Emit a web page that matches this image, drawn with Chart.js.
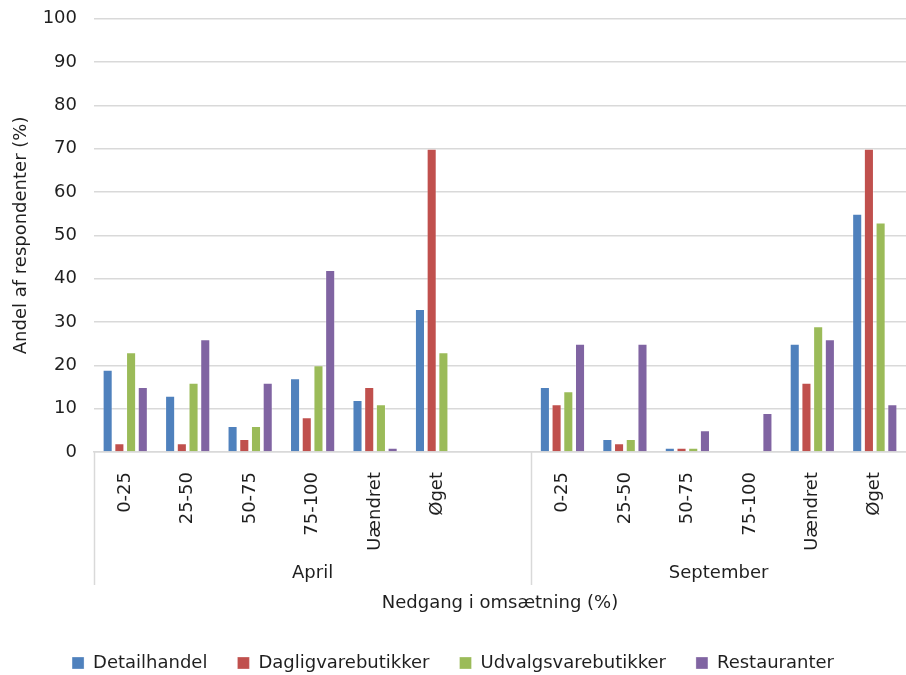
<!DOCTYPE html>
<html lang="da">
<head>
<meta charset="utf-8">
<title>Nedgang i omsætning</title>
<script src="https://cdn.jsdelivr.net/npm/chart.js@4.4.1/dist/chart.umd.min.js"></script>
<style>
  html, body { margin: 0; padding: 0; background: #ffffff; }
  #wrap { width: 906px; height: 675px; }
</style>
</head>
<body>
<div id="wrap"><canvas id="chart" width="906" height="675"></canvas></div>
<script>
// Categories: April group, an empty spacer slot, then September group
const aprilCategories = ['0-25', '25-50', '50-75', '75-100', 'Uændret', 'Øget'];
const septemberCategories = ['0-25', '25-50', '50-75', '75-100', 'Uændret', 'Øget'];
const groupLabels = ['April', 'September'];
const seriesNames = ['Detailhandel', 'Dagligvarebutikker', 'Udvalgsvarebutikker', 'Restauranter'];

// Share of respondents (%) per series
const detailhandelApril = [19, 13, 6, 17, 12, 33];
const detailhandelSeptember = [15, 3, 1, 0, 25, 55];
const dagligvareApril = [2, 2, 3, 8, 15, 70];
const dagligvareSeptember = [11, 2, 1, 0, 16, 70];
const udvalgsvareApril = [23, 16, 6, 20, 11, 23];
const udvalgsvareSeptember = [14, 3, 1, 0, 29, 53];
const restauranterApril = [15, 26, 16, 42, 1, 0];
const restauranterSeptember = [25, 25, 5, 9, 26, 11];

const yTicks = [0, 10, 20, 30, 40, 50, 60, 70, 80, 90, 100];

const labels = [...aprilCategories, '', ...septemberCategories];
const joinGroups = (a, s) => [...a, null, ...s];

const colors = ['#4F81BD', '#C0504D', '#9BBB59', '#8064A2'];
const seriesData = [
  joinGroups(detailhandelApril, detailhandelSeptember),
  joinGroups(dagligvareApril, dagligvareSeptember),
  joinGroups(udvalgsvareApril, udvalgsvareSeptember),
  joinGroups(restauranterApril, restauranterSeptember)
];

const FONT = 'DejaVu Sans, Verdana, sans-serif';
const TEXT = '#1f1f1f';
const LINE = '#d9d9d9';

// Draws the group row (April / September) and its separators under the category labels
const groupAxis = {
  id: 'groupAxis',
  afterDraw(chart) {
    const x = chart.scales.x;
    const ctx = chart.ctx;
    const step = x.getPixelForValue(1) - x.getPixelForValue(0);
    const splitX = x.getPixelForValue(aprilCategories.length) + step / 2;
    const top = chart.chartArea.bottom;
    const lineBottom = top + 133;
    ctx.save();
    ctx.strokeStyle = LINE;
    ctx.lineWidth = 1.5;
    [x.left, splitX].forEach(px => {
      ctx.beginPath();
      ctx.moveTo(Math.round(px) + 0.5, top);
      ctx.lineTo(Math.round(px) + 0.5, lineBottom);
      ctx.stroke();
    });
    ctx.fillStyle = TEXT;
    ctx.font = '18px ' + FONT;
    ctx.textAlign = 'center';
    ctx.textBaseline = 'middle';
    ctx.fillText(groupLabels[0], (x.left + splitX) / 2, top + 121);
    ctx.fillText(groupLabels[1], (splitX + x.right) / 2, top + 121);
    ctx.restore();
  }
};

new Chart(document.getElementById('chart'), {
  type: 'bar',
  data: {
    labels: labels,
    datasets: seriesNames.map((name, i) => ({
      label: name,
      data: seriesData[i],
      backgroundColor: colors[i],
      borderColor: 'rgba(255,255,255,0.3)',
      borderWidth: 1,
      categoryPercentage: 0.75,
      barPercentage: 0.86
    }))
  },
  options: {
    responsive: false,
    animation: false,
    events: [],
    layout: { padding: { top: 8, right: 0, bottom: -7, left: 0 } },
    scales: {
      x: {
        grid: { display: false },
        border: { display: true, color: LINE, width: 1.5 },
        ticks: {
          autoSkip: false,
          minRotation: 90,
          maxRotation: 90,
          padding: 12,
          color: TEXT,
          font: { family: FONT, size: 18, lineHeight: 1.0 }
        },
        title: {
          display: true,
          text: 'Nedgang i omsætning (%)',
          color: TEXT,
          font: { family: FONT, size: 18 },
          padding: { top: 0, bottom: 10 }
        },
        afterFit(scale) { scale.height = 172; }
      },
      y: {
        min: 0,
        max: 100,
        afterBuildTicks(scale) { scale.ticks = yTicks.map(v => ({ value: v })); },
        grid: { color: LINE, lineWidth: 1.5, drawTicks: false },
        border: { display: false },
        ticks: {
          padding: 17,
          color: TEXT,
          font: { family: FONT, size: 18, lineHeight: 0.2 }
        },
        title: {
          display: true,
          text: 'Andel af respondenter (%)',
          color: TEXT,
          font: { family: FONT, size: 18 },
          padding: { top: 11, bottom: 0 }
        },
        afterFit(scale) { scale.width = 94; }
      }
    },
    plugins: {
      legend: {
        position: 'bottom',
        labels: {
          boxWidth: 12,
          boxHeight: 12,
          padding: 30,
          color: TEXT,
          font: { family: FONT, size: 18 }
        }
      },
      tooltip: { enabled: false }
    }
  },
  plugins: [groupAxis]
});
</script>
</body>
</html>
